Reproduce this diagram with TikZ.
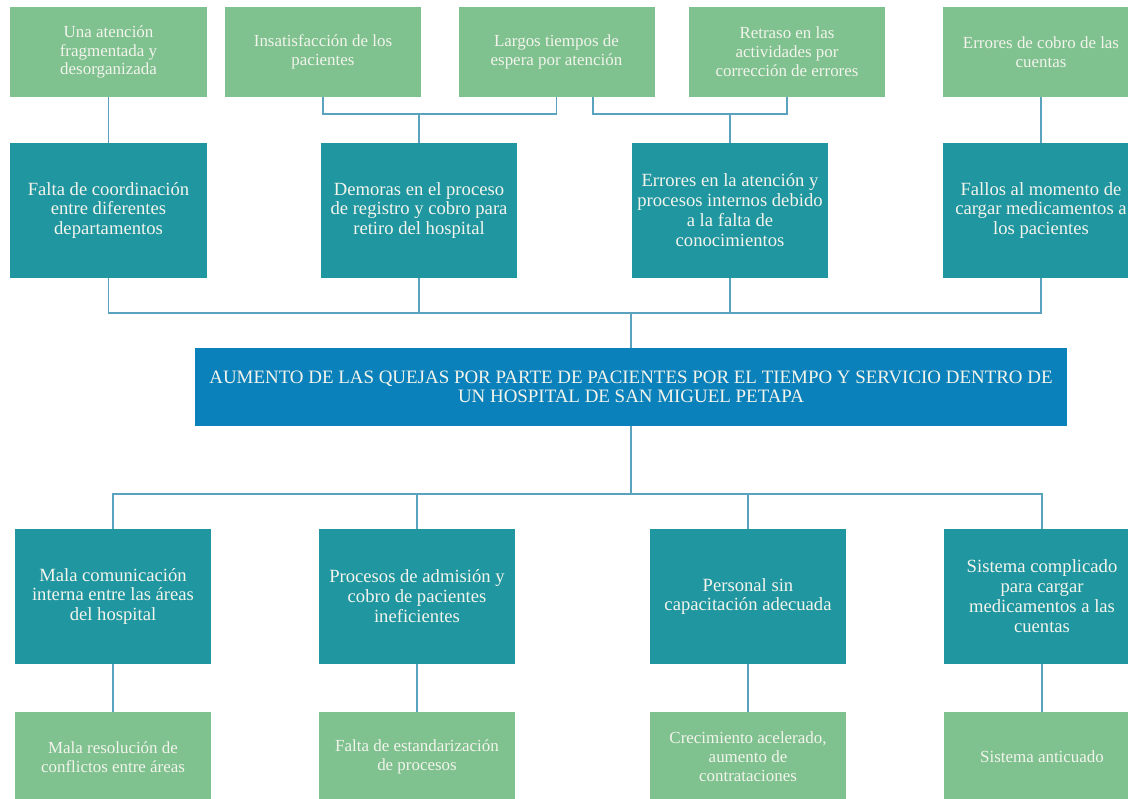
\documentclass[tikz,border=0pt]{standalone}
\usepackage{fontspec}
\setmainfont{Liberation Serif}
\definecolor{cGreen}{HTML}{7FC18F}
\definecolor{cTeal}{HTML}{1F96A0}
\definecolor{cBlue}{HTML}{0A81BA}
\definecolor{cLine}{HTML}{5BA2BE}
\definecolor{cText}{HTML}{F3F4EC}
\begin{document}
\begin{tikzpicture}[x=1bp,y=-1bp,
  box/.style={rectangle, inner sep=0pt, minimum width=196bp, align=center, text=cText},
  cause/.style={box, fill=cGreen, minimum height=90bp, font=\fontsize{17}{19}\selectfont},
  midbox/.style={box, fill=cTeal, minimum height=135bp, font=\fontsize{18.7}{20}\selectfont},
  probbox/.style={box, fill=cBlue, minimum width=872bp, minimum height=78bp, font=\fontsize{19}{18.5}\selectfont},
  conn/.style={draw=cLine, line width=1.5bp}]
\clip (0,0) rectangle (1128,799);
\fill[white] (0,0) rectangle (1128,799);
% top row
\node[cause] (T1) at (108.5,52) {Una atención\\fragmentada y\\desorganizada};
\node[cause] (T2) at (323,52) {Insatisfacción de los\\pacientes};
\node[cause] (T3) at (556.5,52) {Largos tiempos de\\espera por atención};
\node[cause] (T4) at (787,52) {Retraso en las\\actividades por\\corrección de errores};
\node[cause] (T5) at (1041,52) {Errores de cobro de las\\cuentas};
% second row
\node[midbox] (M1) at (108.5,210.5) {Falta de coordinación\\entre diferentes\\departamentos};
\node[midbox] (M2) at (419,210.5) {Demoras en el proceso\\de registro y cobro para\\retiro del hospital};
\node[midbox] (M3) at (730,210.5) {Errores en la atención y\\procesos internos debido\\a la falta de\\conocimientos};
\node[midbox] (M4) at (1041,210.5) {Fallos al momento de\\cargar medicamentos a\\los pacientes};
% central problem
\node[probbox] (C) at (631,387) {AUMENTO DE LAS QUEJAS POR PARTE DE PACIENTES POR EL TIEMPO Y SERVICIO DENTRO DE\\UN HOSPITAL DE SAN MIGUEL PETAPA};
% bottom teal
\node[midbox] (B1) at (113,596.5) {Mala comunicación\\interna entre las áreas\\del hospital};
\node[midbox] (B2) at (417,596.5) {Procesos de admisión y\\cobro de pacientes\\ineficientes};
\node[midbox] (B3) at (748,596.5) {Personal sin\\capacitación adecuada};
\node[midbox] (B4) at (1042,596.5) {Sistema complicado\\para cargar\\medicamentos a las\\cuentas};
% bottom green
\node[cause] (G1) at (113,757) {Mala resolución de\\conflictos entre áreas};
\node[cause] (G2) at (417,757) {Falta de estandarización\\de procesos};
\node[cause] (G3) at (748,757) {Crecimiento acelerado,\\aumento de\\contrataciones};
\node[cause] (G4) at (1042,757) {Sistema anticuado};
% junction coordinates
\coordinate (j1) at (419,114);
\coordinate (T3r) at (593,97);
\coordinate (j2) at (730,114);
\coordinate (jc) at (631,313);
\coordinate (jb) at (631,494);
% top connectors
\draw[conn] (T1.south) -- (M1.north);
\draw[conn] (T2.south) |- (j1) -| (T3.south);
\draw[conn] (j1) -- (M2.north);
\draw[conn] (T3r) |- (j2) -| (T4.south);
\draw[conn] (j2) -- (M3.north);
\draw[conn] (T5.south) -- (M4.north);
% second row to center
\draw[conn] (M1.south) |- (jc) -| (M4.south);
\draw[conn] (M2.south) -- (M2.south |- jc);
\draw[conn] (M3.south) -- (M3.south |- jc);
\draw[conn] (jc) -- (C.north);
% center to bottom
\draw[conn] (C.south) -- (jb);
\draw[conn] (B1.north) |- (jb) -| (B4.north);
\draw[conn] (B2.north) -- (B2.north |- jb);
\draw[conn] (B3.north) -- (B3.north |- jb);
\draw[conn] (B1.south) -- (G1.north);
\draw[conn] (B2.south) -- (G2.north);
\draw[conn] (B3.south) -- (G3.north);
\draw[conn] (B4.south) -- (G4.north);
\end{tikzpicture}
\end{document}
